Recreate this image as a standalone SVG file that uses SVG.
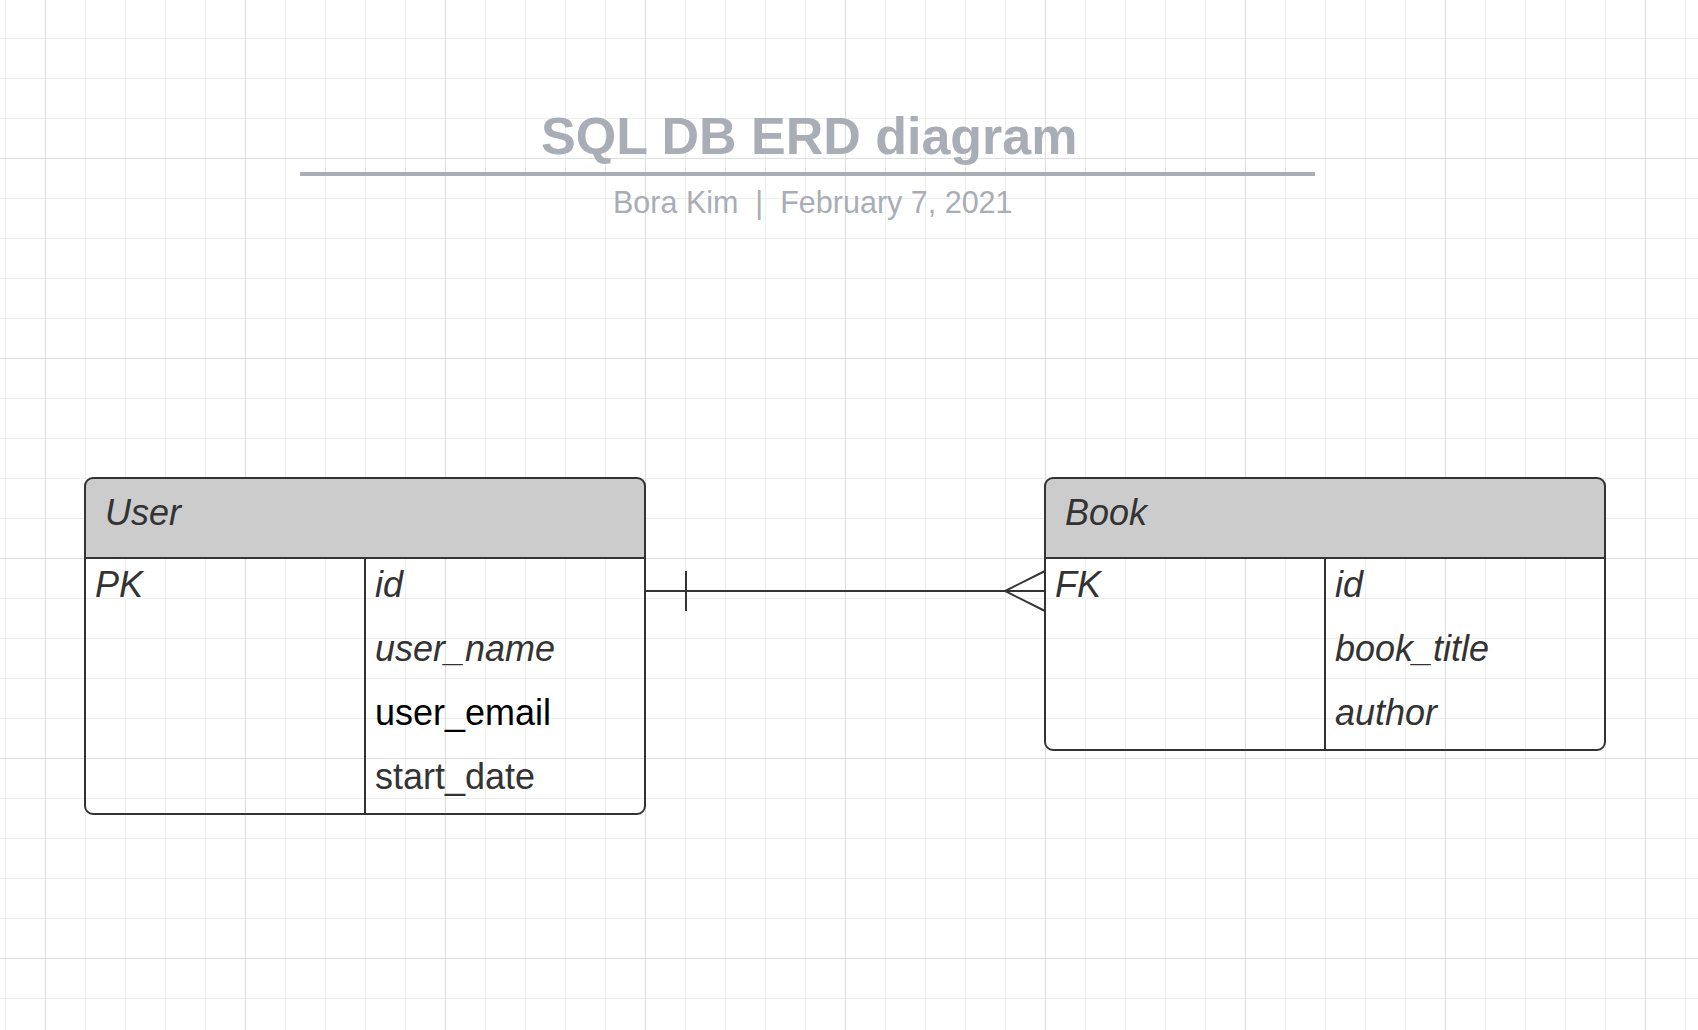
<svg xmlns="http://www.w3.org/2000/svg" width="1698" height="1030" viewBox="0 0 1698 1030">
<style>
.title{font-family:"Liberation Sans",Arial,sans-serif;font-weight:bold;font-size:52px;fill:#a9adb5}
.sub{font-family:"Liberation Sans",Arial,sans-serif;font-size:30.5px;fill:#a9adb5}
.t{font-family:"Liberation Sans",Arial,sans-serif;font-size:36px;fill:#333333}
.i{font-style:italic}
.hdr{fill:#cccccc}
.ln{stroke:#333333;stroke-width:2;fill:none}
</style>
<defs>
<pattern id="minor" patternUnits="userSpaceOnUse" x="5" y="38" width="40" height="40">
<rect x="0" y="0" width="1" height="40" fill="#eeeeee"/>
<rect x="0" y="0" width="40" height="1" fill="#eeeeee"/>
</pattern>
<pattern id="major" patternUnits="userSpaceOnUse" x="45" y="158" width="200" height="200">
<rect x="0" y="0" width="1" height="200" fill="#dedede"/>
<rect x="0" y="0" width="200" height="1" fill="#dedede"/>
</pattern>
</defs>
<rect width="1698" height="1030" fill="#ffffff"/>
<rect width="1698" height="1030" fill="url(#minor)"/>
<rect width="1698" height="1030" fill="url(#major)"/>

<g id="title">
<text class="title" x="541" y="154">SQL DB ERD diagram</text>
<rect x="300" y="172" width="1015" height="4" fill="#a9adb5"/>
<text class="sub" x="613" y="213" xml:space="preserve">Bora Kim  |  February 7, 2021</text>
</g>

<g id="connectors">
<line class="ln" x1="645" y1="591" x2="1045" y2="591"/>
<line class="ln" x1="686" y1="571" x2="686" y2="611"/>
<polyline class="ln" points="1045,571 1005,591 1045,611"/>
</g>

<g id="user">
<path d="M85,558 V486 a8,8 0 0 1 8,-8 H637 a8,8 0 0 1 8,8 V558 Z" class="hdr"/>
<path d="M93,478 H637 a8,8 0 0 1 8,8 V806 a8,8 0 0 1 -8,8 H93 a8,8 0 0 1 -8,-8 V486 a8,8 0 0 1 8,-8 Z" fill="none" stroke="#333333" stroke-width="2"/>
<line class="ln" x1="85" y1="558" x2="645" y2="558"/>
<line class="ln" x1="365" y1="558" x2="365" y2="814"/>
<text class="t i" x="105" y="525">User</text>
<text class="t i" x="95" y="597">PK</text>
<text class="t i" x="375" y="597">id</text>
<text class="t i" x="375" y="661">user_name</text>
<text class="t" x="375" y="725" style="fill:#000000">user_email</text>
<text class="t" x="375" y="789">start_date</text>
</g>

<g id="book">
<path d="M1045,558 V486 a8,8 0 0 1 8,-8 H1597 a8,8 0 0 1 8,8 V558 Z" class="hdr"/>
<path d="M1053,478 H1597 a8,8 0 0 1 8,8 V742 a8,8 0 0 1 -8,8 H1053 a8,8 0 0 1 -8,-8 V486 a8,8 0 0 1 8,-8 Z" fill="none" stroke="#333333" stroke-width="2"/>
<line class="ln" x1="1045" y1="558" x2="1605" y2="558"/>
<line class="ln" x1="1325" y1="558" x2="1325" y2="750"/>
<text class="t i" x="1065" y="525">Book</text>
<text class="t i" x="1055" y="597">FK</text>
<text class="t i" x="1335" y="597">id</text>
<text class="t i" x="1335" y="661">book_title</text>
<text class="t i" x="1335" y="725">author</text>
</g>
</svg>
